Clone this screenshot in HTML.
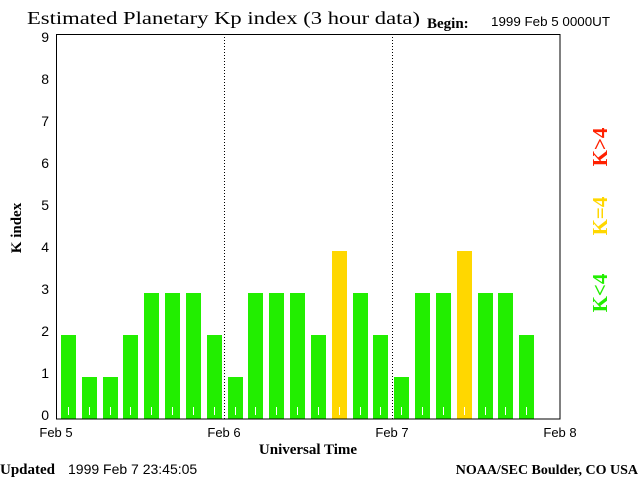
<!DOCTYPE html>
<html><head><meta charset="utf-8"><style>
body{margin:0;background:#fff;}
svg{display:block;}
</style></head><body>
<svg width="640" height="480" xmlns="http://www.w3.org/2000/svg">
<text x="27" y="24" font-family="Liberation Serif, serif" font-size="18" textLength="393" lengthAdjust="spacingAndGlyphs">Estimated Planetary Kp index (3 hour data)</text>
<text x="427" y="28" font-family="Liberation Serif, serif" font-weight="bold" font-size="15">Begin:</text>
<text x="491" y="26" font-family="Liberation Sans, sans-serif" font-size="13" textLength="119" lengthAdjust="spacingAndGlyphs">1999 Feb 5 0000UT</text>
<g id="bars"></g>
<g id="grid"></g>
<rect x="56.5" y="34.5" width="503.5" height="384.5" fill="none" stroke="#000" stroke-width="1"/>
<g id="yaxis" font-family="Liberation Sans, sans-serif" font-size="14"></g>
<g id="xaxis" font-family="Liberation Sans, sans-serif" font-size="13"></g>
<text x="21" y="228" transform="rotate(-90 21 228)" text-anchor="middle" font-family="Liberation Serif, serif" font-weight="bold" font-size="15">K index</text>
<text x="308" y="454" text-anchor="middle" font-family="Liberation Serif, serif" font-weight="bold" font-size="15">Universal Time</text>
<text x="0" y="474" font-family="Liberation Serif, serif" font-weight="bold" font-size="15">Updated</text>
<text x="68" y="474" font-family="Liberation Sans, sans-serif" font-size="14">1999 Feb  7 23:45:05</text>
<text x="638" y="474" text-anchor="end" font-family="Liberation Serif, serif" font-weight="bold" font-size="14">NOAA/SEC Boulder, CO USA</text>
<text x="607" y="147" transform="rotate(-90 607 147)" text-anchor="middle" fill="#ff2000" font-family="Liberation Serif, serif" font-weight="bold" font-size="21">K&gt;4</text>
<text x="607" y="216" transform="rotate(-90 607 216)" text-anchor="middle" fill="#ffd700" font-family="Liberation Serif, serif" font-weight="bold" font-size="21">K=4</text>
<text x="607" y="293" transform="rotate(-90 607 293)" text-anchor="middle" fill="#22ee00" font-family="Liberation Serif, serif" font-weight="bold" font-size="21">K&lt;4</text>
</svg>
<script>
const kpValues = [2,1,1,2,3,3,3,2, 1,3,3,3,2,4,3,2, 1,3,3,4,3,3,2];
const yTicks = [0,1,2,3,4,5,6,7,8,9];
const dayLabels = ["Feb 5","Feb 6","Feb 7","Feb 8"];
const NS="http://www.w3.org/2000/svg";
const x0=56, dayW=168, slotW=20.83, y0=419, unit=42;
const xs=i=>x0+i*slotW;
const ys=v=>y0-v*unit;
function mk(t,a){const e=document.createElementNS(NS,t);for(const k in a)e.setAttribute(k,a[k]);return e;}
const bars=document.getElementById('bars');
kpValues.forEach((v,i)=>{
  const col=v>4?'#ff2000':(v===4?'#ffd700':'#22ee00');
  const bx=Math.round(xs(i)+5);
  const r=mk('rect',{x:bx,y:ys(v),width:15,height:y0-ys(v),fill:col});
  
  
  bars.appendChild(r);
  const t=mk('line',{x1:bx+7.5,x2:bx+7.5,y1:407,y2:415,stroke:'#fff','stroke-width':1});
  
  
  bars.appendChild(t);
});
const grid=document.getElementById('grid');
[1,2].forEach(d=>{
  const l=mk('line',{x1:x0+d*dayW+0.5,x2:x0+d*dayW+0.5,y1:34,y2:419,stroke:'#000','stroke-dasharray':'1,2'});
  
  
  grid.appendChild(l);
});
const ya=document.getElementById('yaxis');
yTicks.forEach(v=>{
  const t=mk('text',{x:49,y:ys(v)+1,'text-anchor':'end'});
  t.textContent=v;
  
  
  ya.appendChild(t);
});
const xa=document.getElementById('xaxis');
dayLabels.forEach((s,i)=>{
  const t=mk('text',{x:x0+i*dayW,y:437,'text-anchor':'middle'});
  t.textContent=s;
  
  
  xa.appendChild(t);
});
</script>
</body></html>
